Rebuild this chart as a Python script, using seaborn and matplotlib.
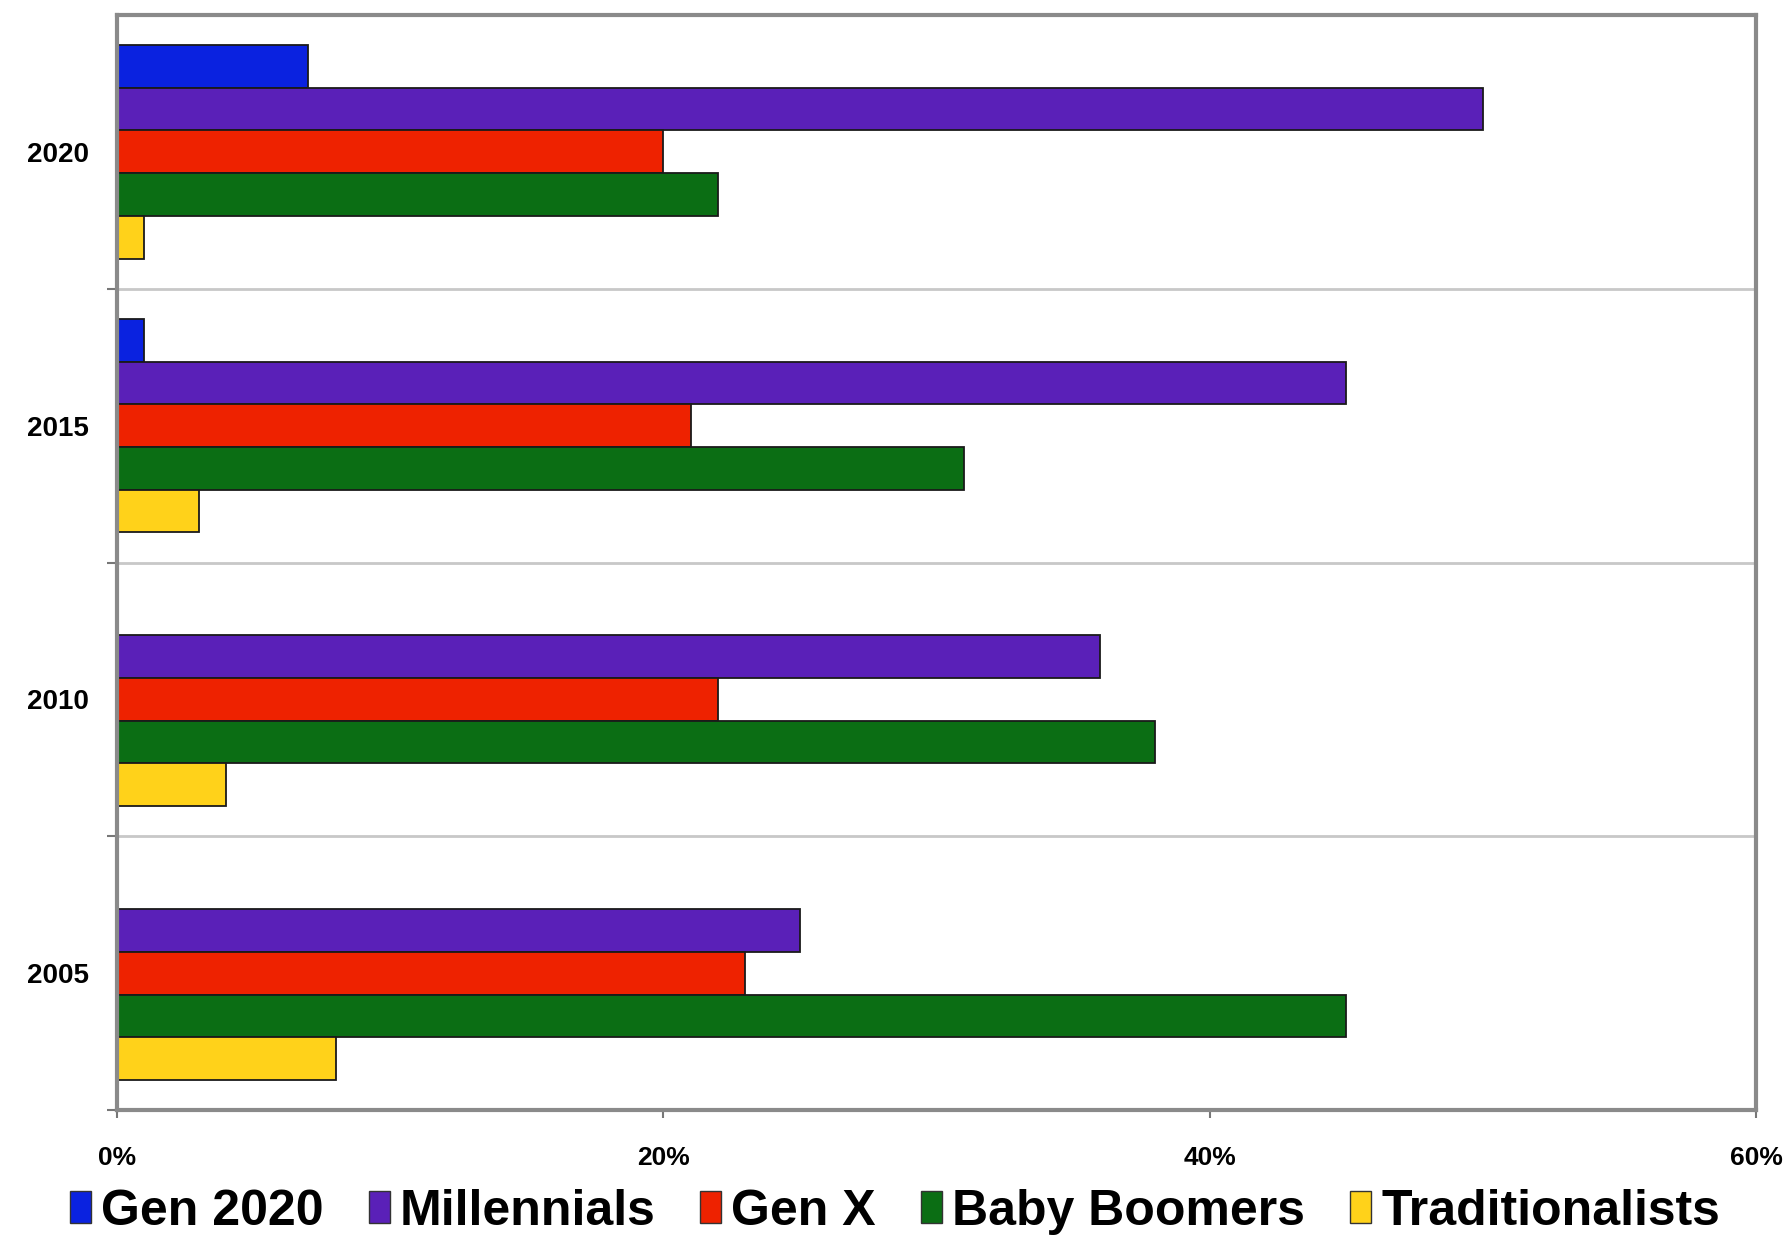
import matplotlib
matplotlib.use("Agg")
import matplotlib.pyplot as plt
import seaborn as sns
import pandas as pd
from matplotlib.ticker import FuncFormatter, FixedLocator
from matplotlib.patches import Patch

years = ["2020", "2015", "2010", "2005"]
generations = ["Gen 2020", "Millennials", "Gen X", "Baby Boomers", "Traditionalists"]
gen2020 = [7, 1, 0, 0]
millennials = [50, 45, 36, 25]
genx = [20, 21, 22, 23]
boomers = [22, 31, 38, 45]
traditionalists = [1, 3, 4, 8]
colors = ["#0A22E0", "#5A20B8", "#EE2200", "#0B6E14", "#FFD21A"]
xticks = [0, 20, 40, 60]

series = [gen2020, millennials, genx, boomers, traditionalists]
rows = []
for g, vals in zip(generations, series):
    for y, v in zip(years, vals):
        rows.append({"Year": y, "Generation": g, "Share": v})
df = pd.DataFrame(rows)

sns.set_theme(style="white")
plt.rcParams["font.family"] = ["Liberation Sans", "DejaVu Sans"]
plt.rcParams["text.color"] = "black"
plt.rcParams["xtick.color"] = "black"
plt.rcParams["ytick.color"] = "black"

fig = plt.figure(figsize=(17.9, 12.39), dpi=100)
ax = fig.add_axes([0.0654, 0.104, 0.9156, 0.884])

sns.barplot(data=df, y="Year", x="Share", hue="Generation", order=years,
            hue_order=generations, palette=colors, orient="h", width=0.78,
            edgecolor="#1a1a1a", linewidth=1.3, saturation=1, ax=ax, legend=False)

ax.set_xlim(0, 60)
ax.set_ylim(3.5, -0.5)
ax.xaxis.set_major_locator(FixedLocator(xticks))
ax.xaxis.set_major_formatter(FuncFormatter(lambda v, p: f"{int(v)}%"))
ax.set_xlabel("")
ax.set_ylabel("")

bounds = [0.5, 1.5, 2.5]
for b in bounds:
    ax.axhline(b, color="#c8c8c8", lw=2, zorder=0)
ax.yaxis.set_minor_locator(FixedLocator(bounds + [3.5]))
ax.tick_params(axis="y", which="major", length=0, pad=20, labelsize=20, labelcolor="black")
ax.tick_params(axis="y", which="minor", length=7, width=1.5, color="#777777", left=True)
ax.tick_params(axis="x", which="major", length=6, width=1.5, color="#777777",
               bottom=True, pad=20, labelsize=19, labelcolor="black")
for lab in ax.get_xticklabels() + ax.get_yticklabels():
    lab.set_fontweight("bold")

for s in ax.spines.values():
    s.set_color("#8a8a8a")
    s.set_linewidth(3)

handles = [Patch(facecolor=c, edgecolor="#333333", linewidth=1) for c in colors]
fig.legend(handles, generations, loc="center", bbox_to_anchor=(0.5, 0.022), ncol=5,
           frameon=False, prop={"weight": "bold", "size": 36},
           handlelength=0.42, handleheight=0.6, handletextpad=0.2, columnspacing=0.9,
           labelcolor="black")

fig.savefig("out.png", dpi=100, facecolor="white")
